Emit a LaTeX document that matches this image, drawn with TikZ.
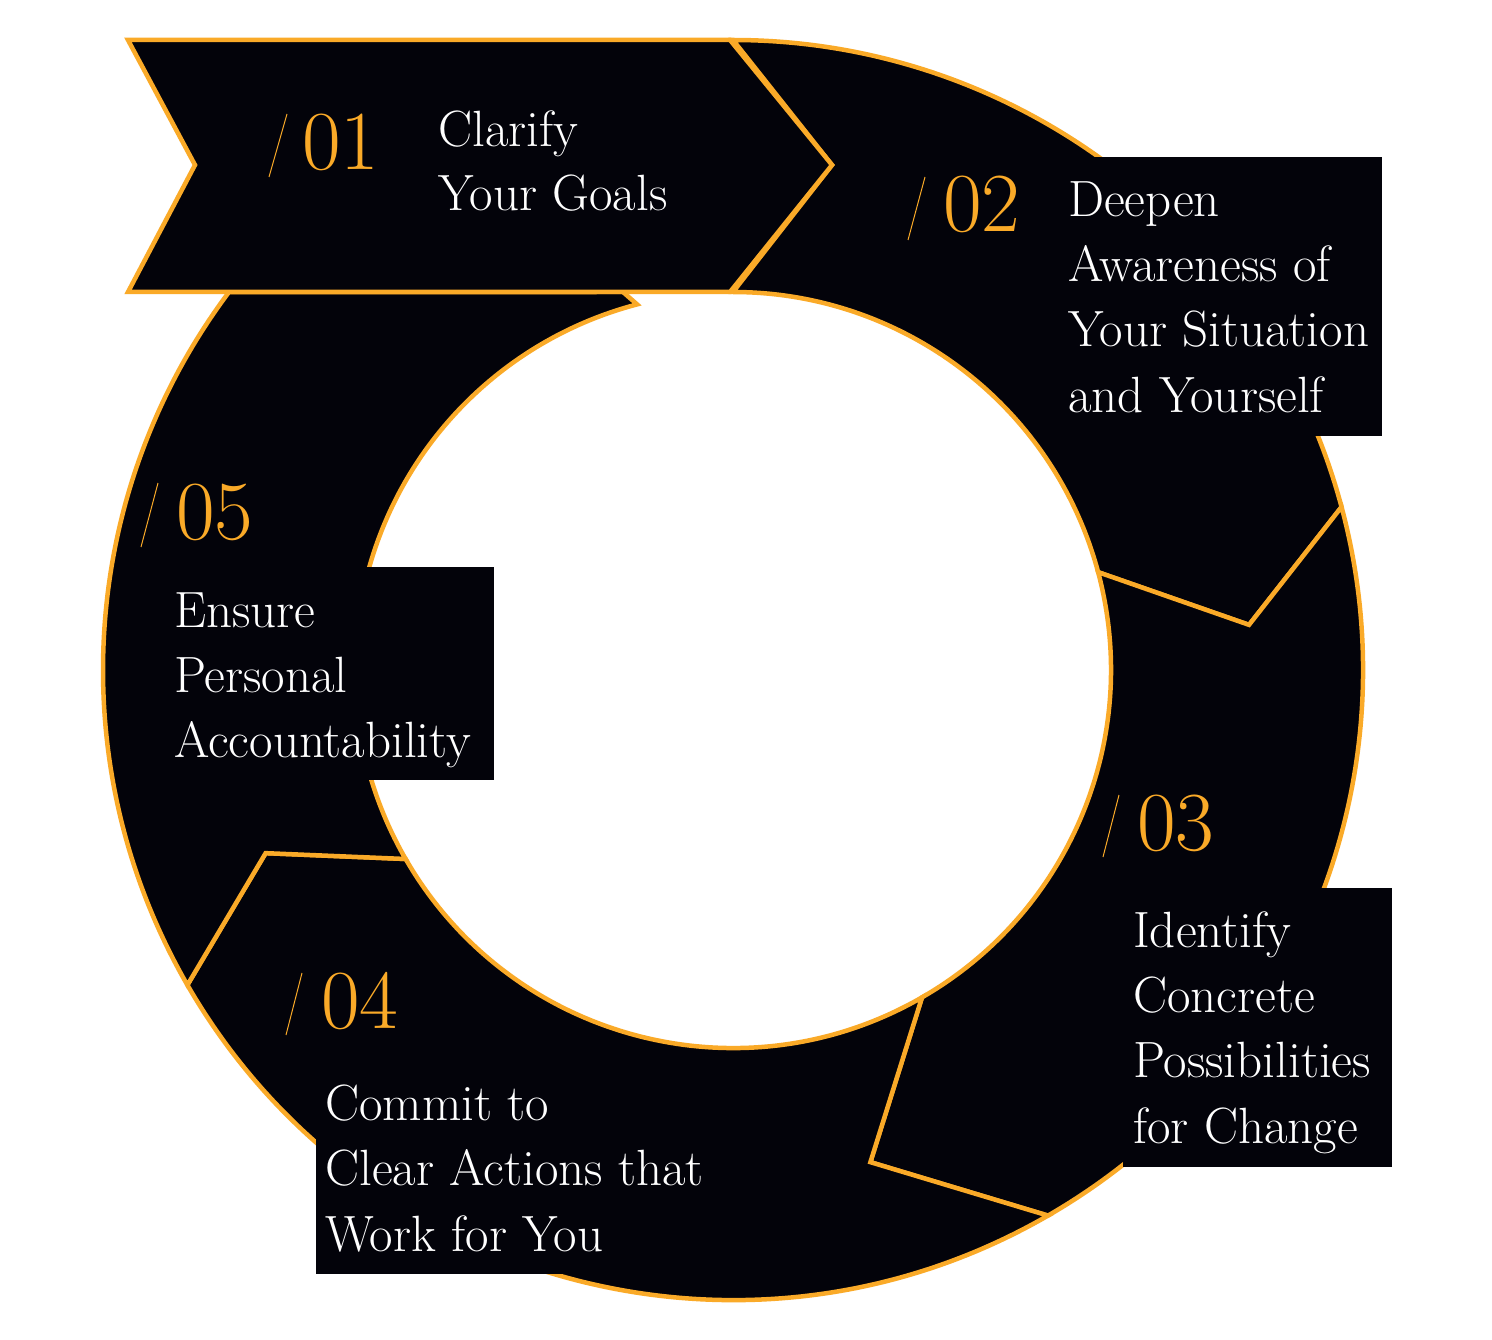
\documentclass[tikz,border=0pt]{standalone}
\usepackage{fontspec}
\usetikzlibrary{calc}
\definecolor{ringblack}{RGB}{3,3,10}
\definecolor{ringorange}{RGB}{250,170,40}
\begin{document}
\begin{tikzpicture}[x=1pt,y=1pt,
  seg/.style={fill=ringblack, draw=ringorange, line width=4.5pt, line join=miter},
  tbox/.style={fill=ringblack, draw=none},
  num/.style={text=ringorange, font=\fontsize{84}{84}\selectfont, anchor=base west, inner sep=0pt},
  lbl/.style={text=white, font=\fontsize{51}{65}\selectfont, anchor=base west, inner sep=0pt},
  slashline/.style={draw=ringorange, line width=1pt}]
\fill[white] (0,0) rectangle (1492,-1340);
\useasboundingbox (0,0) rectangle (1492,-1340);
\coordinate (C) at (733,-670);
% segment 02
\draw[seg] ($(C)+(90:630pt)$) arc[start angle=90,end angle=15,radius=630pt]
  -- ($(C)+(5:518pt)$) -- ($(C)+(15:378pt)$)
  arc[start angle=15,end angle=90,radius=378pt] -- (832,-165) -- cycle;
% segment 03
\draw[seg] ($(C)+(15:630pt)$) arc[start angle=15,end angle=-60,radius=630pt]
  -- ($(C)+(-74.4:511pt)$) -- ($(C)+(-60:378pt)$)
  arc[start angle=-60,end angle=15,radius=378pt] -- ($(C)+(5:518pt)$) -- cycle;
% segment 04
\draw[seg] ($(C)+(-60:630pt)$) arc[start angle=-60,end angle=-150,radius=630pt]
  -- ($(C)+(-158.6:502pt)$) -- ($(C)+(-150:378pt)$)
  arc[start angle=-150,end angle=-60,radius=378pt] -- ($(C)+(-74.4:511pt)$) -- cycle;
% segment 05
\draw[seg] ($(C)+(-150:630pt)$) arc[start angle=-150,end angle=-216.87,radius=630pt]
  -- (623,-292) -- ($(C)+(104.7:378pt)$)
  arc[start angle=104.7,end angle=210,radius=378pt] -- ($(C)+(201.4:502pt)$) -- cycle;
% text boxes
\fill[tbox] (1050,-157) rectangle (1382,-436);
\fill[tbox] (1123,-888) rectangle (1392,-1167);
\fill[tbox] (316,-1075) rectangle (710,-1274);
\fill[tbox] (165,-567) rectangle (494,-780);
% banner 01
\draw[seg] (128,-40) -- (730,-40) -- (832,-165) -- (730,-292) -- (128,-292) -- (195,-165) -- cycle;
% 01
\draw[slashline] (269,-177) -- (287,-114);
\node[num] (n01) at (302,-170) {01};
\node[lbl] (l01a) at (438,-147) {Clarify};
\node[lbl] (l01b) at (438,-211) {Your Goals};
% 02
\draw[slashline] (908,-240) -- (925,-177);
\node[num] (n02) at (943,-232) {02};
\node[lbl] (l02a) at (1068,-217) {Deepen};
\node[lbl] (l02b) at (1068,-282) {Awareness of};
\node[lbl] (l02c) at (1068,-347) {Your Situation};
\node[lbl] (l02d) at (1068,-412) {and Yourself};
% 03
\draw[slashline] (1103,-857) -- (1119,-795);
\node[num] (n03) at (1137,-850) {03};
\node[lbl] (l03a) at (1133,-947) {Identify};
\node[lbl] (l03b) at (1133,-1012) {Concrete};
\node[lbl] (l03c) at (1133,-1077) {Possibilities};
\node[lbl] (l03d) at (1133,-1143) {for Change};
% 04
\draw[slashline] (286,-1035) -- (302,-973);
\node[num] (n04) at (321,-1028) {04};
\node[lbl] (l04a) at (325,-1120) {Commit to};
\node[lbl] (l04b) at (325,-1185) {Clear Actions that};
\node[lbl] (l04c) at (325,-1251) {Work for You};
% 05
\draw[slashline] (141,-547) -- (158,-483);
\node[num] (n05) at (176,-539) {05};
\node[lbl] (l05a) at (174,-627) {Ensure};
\node[lbl] (l05b) at (174,-692) {Personal};
\node[lbl] (l05c) at (174,-757) {Accountability};
\end{tikzpicture}
\end{document}
